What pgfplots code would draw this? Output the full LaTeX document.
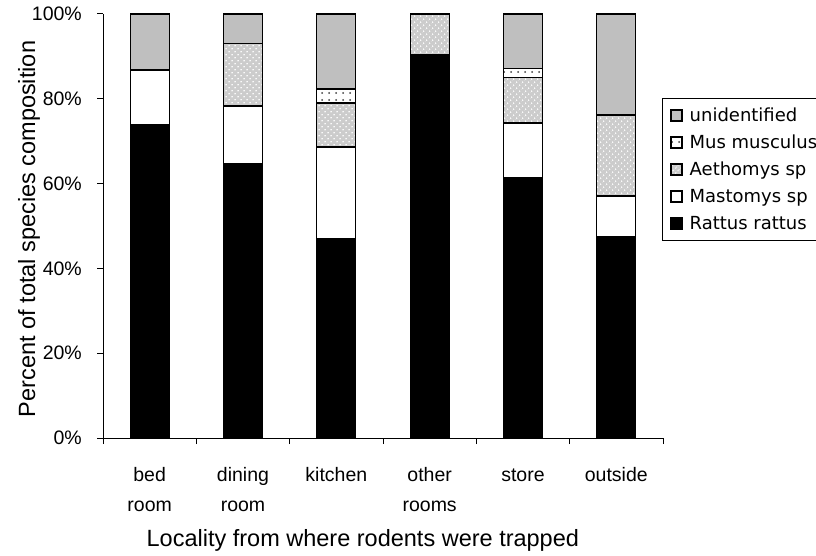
\documentclass[border=0pt]{standalone}
\usepackage{fontspec}
\setmainfont{Liberation Sans}
\newfontfamily\legfont{DejaVu Sans}
\usepackage{pgfplots}
\usepackage{pgfplotstable}
\pgfplotsset{compat=1.18}
\usetikzlibrary{patterns,patterns.meta}
\pgfplotstableread{
cat rattus mastomys aethomys mus unid
0 73.8 13.0 0 0 13.2
1 64.6 13.7 14.8 0 6.9
2 46.9 21.7 10.4 3.3 17.7
3 90.5 0 9.5 0 0
4 61.3 13.0 10.8 2.0 12.9
5 47.5 9.6 19.1 0 23.8
}\data
\begin{document}
\begin{tikzpicture}[x=1pt,y=1pt]
\path[use as bounding box] (0,0) rectangle (816,555);
\begin{axis}[
  at={(103pt,117pt)}, anchor=south west,
  scale only axis, width=560pt, height=424pt,
  ybar stacked, bar width=39pt,
  xmin=-0.5, xmax=5.5, ymin=0, ymax=100,
  axis lines*=left,
  axis line style={line width=1pt},
  xtick={-0.5,0.5,1.5,2.5,3.5,4.5,5.5},
  x tick label as interval,
  xticklabels={{\rule{0pt}{15pt}bed\\room},{\rule{0pt}{15pt}dining\\room},{\rule{0pt}{15pt}kitchen},{\rule{0pt}{15pt}other\\rooms},{\rule{0pt}{15pt}store},{\rule{0pt}{15pt}outside},{}},
  xticklabel style={align=center, anchor=north, inner sep=0pt, yshift=-22pt, font=\fontsize{19.5}{30}\selectfont},
  ytick={0,20,40,60,80,100},
  yticklabels={0\%,20\%,40\%,60\%,80\%,100\%},
  yticklabel style={anchor=east, inner sep=0pt, xshift=-15pt, font=\fontsize{19.5}{24}\selectfont},
  tick align=outside, major tick length=6pt,
  tick style={line width=1pt, black},
  xlabel={Locality from where rodents were trapped},
  xlabel style={at={(axis description cs:0.464,-0.257)}, anchor=base, inner sep=0pt, font=\fontsize{23.5}{28}\selectfont},
  ylabel={Percent of total species composition},
  ylabel style={at={(axis description cs:-0.121,0.493)}, anchor=base, inner sep=0pt, font=\fontsize{23.5}{28}\selectfont},
  legend image code/.code={\draw[#1] (0pt,-5.5pt) rectangle (11pt,5.5pt);},
  reverse legend,
  legend style={at={(0.998,0.802)}, anchor=north west, draw=black, line width=1pt,
    font=\legfont\fontsize{18}{22}\selectfont,
    inner xsep=8pt, inner ysep=3.5pt, row sep=0pt, column sep=7pt,
    cells={anchor=west}, nodes={inner sep=0pt, text height=20pt, text depth=7pt}},
]
\addplot[draw=black, line width=1.3pt, fill=black] table[x=cat,y=rattus]{\data};
\addplot[draw=black, line width=1.3pt, fill=white] table[x=cat,y=mastomys]{\data};
\addplot[draw=black, line width=1.3pt, fill=black!20, postaction={pattern={Dots[distance=4pt,radius=0.9pt,angle=45]}, pattern color=white}] table[x=cat,y=aethomys]{\data};
\addplot[draw=black, line width=1.3pt, fill=white, postaction={pattern={Dots[distance=7pt,radius=1pt]}, pattern color=black!75}] table[x=cat,y=mus]{\data};
\addplot[draw=black, line width=1.3pt, fill=black!25] table[x=cat,y=unid]{\data};
\legend{Rattus rattus, Mastomys sp, Aethomys sp, Mus musculus, unidentified}
\end{axis}
\end{tikzpicture}
\end{document}
